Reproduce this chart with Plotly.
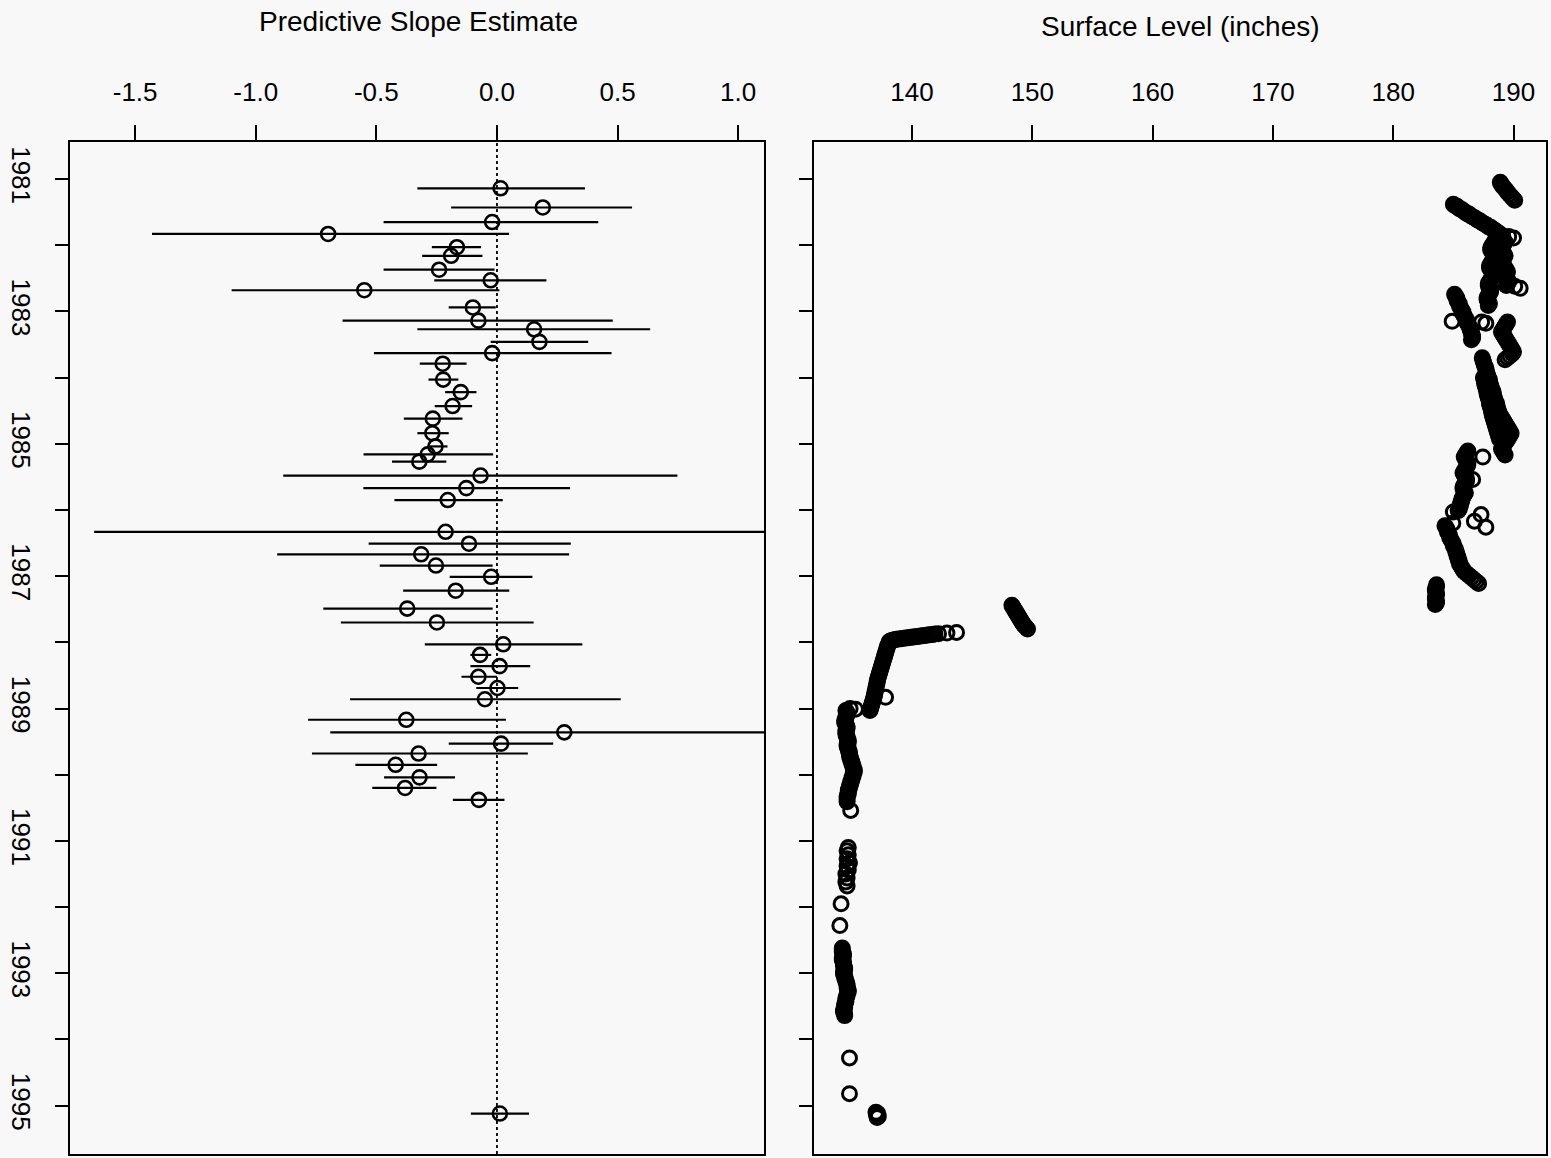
import plotly.graph_objects as go

# ---- Left panel: predictive slope estimates with interval bars ----
slope_year = [1981.14, 1981.43, 1981.65, 1981.83, 1982.03, 1982.16, 1982.37, 1982.53,
              1982.68, 1982.94, 1983.14, 1983.27, 1983.46, 1983.63, 1983.79, 1984.03,
              1984.22, 1984.43, 1984.62, 1984.84, 1985.04, 1985.16, 1985.27, 1985.48,
              1985.67, 1985.85, 1986.33, 1986.51, 1986.67, 1986.84, 1987.01, 1987.22,
              1987.49, 1987.70, 1988.03, 1988.19, 1988.36, 1988.52, 1988.69, 1988.86,
              1989.17, 1989.36, 1989.53, 1989.68, 1989.85, 1990.04, 1990.20, 1990.38,
              1995.12]
slope_est = [0.015, 0.19, -0.02, -0.70, -0.166, -0.19, -0.24, -0.026,
             -0.55, -0.10, -0.077, 0.154, 0.176, -0.02, -0.225, -0.223,
             -0.15, -0.184, -0.266, -0.268, -0.255, -0.287, -0.322, -0.068,
             -0.127, -0.204, -0.213, -0.116, -0.314, -0.253, -0.024, -0.171,
             -0.372, -0.249, 0.026, -0.07, 0.011, -0.077, 0.002, -0.05,
             -0.376, 0.279, 0.017, -0.325, -0.42, -0.321, -0.381, -0.075,
             0.012]
slope_lo = [-0.33, -0.19, -0.47, -1.43, -0.27, -0.31, -0.47, -0.26,
            -1.10, -0.20, -0.64, -0.33, -0.026, -0.51, -0.32, -0.284,
            -0.215, -0.258, -0.386, -0.33, -0.287, -0.553, -0.435, -0.886,
            -0.554, -0.425, -1.67, -0.532, -0.911, -0.486, -0.196, -0.389,
            -0.72, -0.647, -0.299, -0.11, -0.11, -0.147, -0.086, -0.609,
            -0.783, -0.691, -0.20, -0.767, -0.587, -0.468, -0.517, -0.183,
            -0.108]
slope_hi = [0.365, 0.56, 0.42, 0.05, -0.066, -0.06, -0.01, 0.205,
            0.01, -0.005, 0.48, 0.635, 0.378, 0.475, -0.126, -0.16,
            -0.085, -0.103, -0.143, -0.20, -0.205, -0.016, -0.21, 0.748,
            0.303, 0.024, 1.35, 0.306, 0.299, -0.018, 0.147, 0.051,
            -0.018, 0.152, 0.354, -0.024, 0.138, 0.0, 0.088, 0.513,
            0.037, 1.25, 0.233, 0.128, -0.248, -0.174, -0.251, 0.031,
            0.133]

# ---- Right panel: surface level observations, by period ----
years_1981_1983 = [
    # early 1981
    1981.05, 1981.08, 1981.11, 1981.14, 1981.17, 1981.20, 1981.23, 1981.26, 1981.29, 1981.32,
    # spring-summer 1981 rise
    1981.38, 1981.40, 1981.41, 1981.43, 1981.45, 1981.46, 1981.48, 1981.50, 1981.52, 1981.53,
    1981.55, 1981.57, 1981.58, 1981.60, 1981.62, 1981.63, 1981.65, 1981.67, 1981.68, 1981.70,
    1981.72, 1981.73, 1981.75, 1981.77, 1981.78, 1981.80, 1981.82, 1981.84, 1981.86, 1981.87,
    1981.89,
    # 1982, lower readings
    1981.92, 1981.95, 1981.98, 1982.01, 1982.04, 1982.07, 1982.10, 1982.13, 1982.16, 1982.19,
    1982.22, 1982.25, 1982.28, 1982.31, 1982.34, 1982.37, 1982.40, 1982.43, 1982.46, 1982.49,
    1982.52, 1982.55, 1982.58, 1982.61, 1982.64, 1982.67, 1982.70, 1982.73, 1982.76, 1982.79,
    1982.82, 1982.85, 1982.88, 1982.91,
    # 1982, upper readings
    1981.95, 1981.98, 1982.01, 1982.04, 1982.07, 1982.10, 1982.13, 1982.16, 1982.19, 1982.22,
    1982.25, 1982.28, 1982.31, 1982.34, 1982.37, 1982.40, 1982.43, 1982.46, 1982.49, 1982.52,
    1982.55, 1982.58, 1982.61, 1982.62, 1982.65,
    # late 1982 - 1983 drop
    1982.74, 1982.77, 1982.80, 1982.83, 1982.86, 1982.89, 1982.92, 1982.95, 1982.98, 1983.01,
    1983.04, 1983.07, 1983.10, 1983.13, 1983.16, 1983.19, 1983.22, 1983.25, 1983.28, 1983.31,
    1983.34, 1983.37, 1983.40, 1983.43, 1983.15, 1983.16, 1983.18,
    # 1983 high readings
    1983.16, 1983.19, 1983.22, 1983.25, 1983.28, 1983.31, 1983.34, 1983.37, 1983.40, 1983.43,
    1983.46, 1983.49, 1983.52, 1983.55, 1983.58, 1983.61, 1983.64, 1983.67, 1983.70, 1983.73]
level_1981_1983 = [
    188.9, 189.0, 189.1, 189.25, 189.4, 189.5, 189.65, 189.8, 189.95, 190.1,
    185.0, 185.1, 185.3, 185.4, 185.5, 185.7, 185.8, 186.0, 186.1, 186.3,
    186.4, 186.6, 186.7, 186.9, 187.0, 187.2, 187.3, 187.5, 187.6, 187.8,
    187.9, 188.1, 188.2, 188.4, 188.5, 188.6, 188.8, 188.9, 189.1, 189.6,
    190.0,
    188.5, 188.4, 188.3, 188.2, 188.1, 188.1, 188.2, 188.3, 188.4, 188.4,
    188.3, 188.2, 188.1, 188.0, 188.0, 188.1, 188.2, 188.3, 188.3, 188.2,
    188.1, 188.0, 187.9, 187.9, 188.0, 188.1, 188.1, 188.0, 187.9, 187.8,
    187.8, 187.9, 188.0, 187.9,
    189.3, 189.2, 189.1, 189.0, 189.0, 189.1, 189.2, 189.3, 189.2, 189.1,
    189.0, 189.1, 189.2, 189.3, 189.4, 189.5, 189.4, 189.3, 189.4, 189.5,
    189.6, 189.5, 189.4, 190.1, 190.55,
    185.1, 185.2, 185.3, 185.3, 185.4, 185.5, 185.5, 185.6, 185.7, 185.8,
    185.8, 185.9, 186.0, 186.1, 186.1, 186.2, 186.3, 186.4, 186.4, 186.5,
    186.5, 186.6, 186.6, 186.5, 184.9, 187.35, 187.7,
    189.5, 189.4, 189.3, 189.2, 189.1, 189.0, 189.1, 189.2, 189.3, 189.4,
    189.5, 189.6, 189.7, 189.8, 189.9, 190.0, 189.9, 189.7, 189.5, 189.3]

years_1983_1987 = [
    # 1984 steady climb
    1983.70, 1983.73, 1983.76, 1983.79, 1983.82, 1983.85, 1983.88, 1983.91, 1983.94, 1983.97,
    1984.00, 1984.03, 1984.06, 1984.09, 1984.12, 1984.15, 1984.18, 1984.21, 1984.24, 1984.27,
    1984.30, 1984.33, 1984.36, 1984.39, 1984.42, 1984.45, 1984.48, 1984.51, 1984.54, 1984.57,
    1984.60, 1984.63, 1984.66, 1984.69, 1984.72, 1984.75, 1984.78, 1984.81, 1984.84, 1984.87,
    1984.90, 1984.93, 1984.96, 1984.99, 1985.02, 1985.05, 1985.08, 1985.11, 1985.14, 1985.17,
    1985.20,
    # 1984, lower readings
    1984.00, 1984.03, 1984.06, 1984.09, 1984.12, 1984.15, 1984.18, 1984.21, 1984.24, 1984.27,
    1984.30, 1984.33, 1984.36, 1984.39, 1984.42, 1984.45, 1984.48, 1984.51, 1984.54, 1984.57,
    1984.60, 1984.63, 1984.66, 1984.69, 1984.72, 1984.75, 1984.78, 1984.81, 1984.84, 1984.87,
    1984.90, 1984.93,
    # 1985
    1985.11, 1985.14, 1985.17, 1985.20, 1985.23, 1985.26, 1985.29, 1985.32, 1985.35, 1985.38,
    1985.41, 1985.44, 1985.47, 1985.50, 1985.53, 1985.56, 1985.59, 1985.62, 1985.65, 1985.68,
    1985.71, 1985.74, 1985.77, 1985.80, 1985.83, 1985.86, 1985.89, 1985.92, 1985.95, 1985.98,
    1986.01, 1985.54,
    # early 1986 scattered readings
    1986.03, 1986.07, 1986.17, 1986.20, 1986.26,
    # 1986
    1986.24, 1986.27, 1986.30, 1986.33, 1986.36, 1986.39, 1986.42, 1986.45, 1986.48, 1986.51,
    1986.54, 1986.57, 1986.60, 1986.63, 1986.66, 1986.69, 1986.72, 1986.75, 1986.78, 1986.81,
    1986.84, 1986.87, 1986.90, 1986.93, 1986.96, 1986.99, 1987.02, 1987.05, 1987.08, 1987.11,
    # early 1987
    1987.13, 1987.16, 1987.19, 1987.22, 1987.25, 1987.28, 1987.31, 1987.34, 1987.37, 1987.40,
    1987.43]
level_1983_1987 = [
    187.4, 187.45, 187.5, 187.55, 187.6, 187.7, 187.7, 187.75, 187.8, 187.85,
    187.9, 188.0, 188.0, 188.05, 188.1, 188.15, 188.2, 188.3, 188.3, 188.35,
    188.4, 188.45, 188.5, 188.6, 188.6, 188.65, 188.7, 188.75, 188.8, 188.9,
    189.0, 189.1, 189.2, 189.3, 189.4, 189.5, 189.6, 189.7, 189.8, 189.7,
    189.6, 189.5, 189.4, 189.3, 189.2, 189.1, 189.0, 189.1, 189.2, 189.3,
    187.45,
    187.5, 187.55, 187.6, 187.6, 187.65, 187.7, 187.75, 187.8, 187.8, 187.85,
    187.9, 187.95, 188.0, 188.0, 188.05, 188.1, 188.15, 188.2, 188.2, 188.25,
    188.3, 188.35, 188.4, 188.45, 188.5, 188.55, 188.6, 188.65, 188.7, 188.75,
    188.8, 188.85,
    186.2, 186.1, 186.0, 185.9, 186.0, 186.1, 186.2, 186.2, 186.1, 186.0,
    185.9, 185.8, 185.9, 186.0, 186.1, 186.1, 186.0, 185.9, 185.8, 185.8,
    185.9, 186.0, 185.9, 185.8, 185.7, 185.7, 185.6, 185.6, 185.5, 185.5,
    185.4, 186.6,
    185.0, 187.3, 186.75, 184.95, 187.7,
    184.3, 184.4, 184.5, 184.5, 184.6, 184.7, 184.7, 184.8, 184.9, 185.0,
    185.0, 185.1, 185.2, 185.2, 185.3, 185.3, 185.4, 185.4, 185.5, 185.5,
    185.6, 185.7, 185.8, 185.9, 186.1, 186.3, 186.5, 186.7, 186.9, 187.1,
    183.6, 183.6, 183.5, 183.5, 183.6, 183.6, 183.5, 183.5, 183.6, 183.6,
    183.5]

years_1987_1989 = [
    # mid 1987
    1987.44, 1987.47, 1987.50, 1987.53, 1987.56, 1987.59, 1987.62, 1987.65, 1987.68, 1987.71,
    1987.74, 1987.77, 1987.80,
    # late 1987 fall
    1987.85, 1987.86, 1987.87,
    1987.875, 1987.88, 1987.885, 1987.89, 1987.895, 1987.90, 1987.905, 1987.91, 1987.915,
    1987.92, 1987.925, 1987.93, 1987.935, 1987.94, 1987.945, 1987.95, 1987.955, 1987.96,
    1987.97, 1987.975, 1987.98, 1987.99,
    # 1988
    1988.01, 1988.04, 1988.07, 1988.10, 1988.13, 1988.16, 1988.19, 1988.22, 1988.25, 1988.28,
    1988.31, 1988.34, 1988.37, 1988.40, 1988.43, 1988.46, 1988.49, 1988.52, 1988.55, 1988.58,
    1988.61, 1988.64, 1988.67, 1988.70, 1988.73, 1988.76, 1988.79, 1988.82, 1988.85, 1988.88,
    1988.91, 1988.94, 1988.97, 1989.00, 1989.03, 1988.83]
level_1987_1989 = [
    148.3, 148.4, 148.5, 148.6, 148.7, 148.8, 148.9, 149.0, 149.1, 149.2,
    149.3, 149.45, 149.6,
    143.7, 142.9, 142.2,
    141.9, 141.7, 141.5, 141.3, 141.1, 140.9, 140.7, 140.5, 140.3,
    140.1, 139.9, 139.7, 139.5, 139.3, 139.1, 138.9, 138.7, 138.55,
    138.4, 138.3, 138.2, 138.1,
    138.1, 138.0, 137.95, 137.9, 137.85, 137.8, 137.75, 137.7, 137.65, 137.6,
    137.55, 137.5, 137.45, 137.4, 137.35, 137.3, 137.25, 137.2, 137.15, 137.1,
    137.1, 137.05, 137.0, 137.0, 136.95, 136.9, 136.9, 136.85, 136.8, 136.75,
    136.7, 136.65, 136.6, 136.55, 136.5, 137.8]

years_1989_1995 = [
    # 1989 - 1990
    1989.00, 1989.01,
    1989.03, 1989.06, 1989.09, 1989.12, 1989.15, 1989.18, 1989.21, 1989.24, 1989.27, 1989.30,
    1989.33, 1989.36, 1989.39, 1989.42, 1989.45, 1989.48, 1989.51, 1989.54, 1989.57, 1989.60,
    1989.63, 1989.66, 1989.69, 1989.72, 1989.75, 1989.78, 1989.81, 1989.84, 1989.87, 1989.90,
    1989.93, 1989.96, 1989.99, 1990.02, 1990.05, 1990.08, 1990.11, 1990.14, 1990.17, 1990.20,
    1990.23, 1990.26, 1990.29, 1990.32, 1990.35, 1990.38, 1990.41,
    1990.54,
    # 1991
    1991.10, 1991.15, 1991.21, 1991.27, 1991.33, 1991.38, 1991.44, 1991.50, 1991.56, 1991.62,
    1991.68,
    1991.95, 1992.28,
    # 1992 - 1993
    1992.62, 1992.65, 1992.68, 1992.71, 1992.74, 1992.77, 1992.80, 1992.83, 1992.86, 1992.89,
    1992.92, 1992.95, 1992.98, 1993.01, 1993.04, 1993.07, 1993.10, 1993.13, 1993.16, 1993.19,
    1993.22, 1993.25, 1993.28, 1993.31, 1993.34, 1993.37, 1993.40, 1993.43, 1993.46, 1993.49,
    1993.52, 1993.55, 1993.58, 1993.61, 1993.64,
    # 1994 - 1995
    1994.28, 1994.82,
    1995.10, 1995.12, 1995.14, 1995.16, 1995.18]
level_1989_1995 = [
    134.85, 135.3,
    134.5, 134.6, 134.6, 134.5, 134.5, 134.4, 134.4, 134.5, 134.6, 134.6,
    134.5, 134.5, 134.5, 134.6, 134.6, 134.7, 134.7, 134.6, 134.6, 134.7,
    134.7, 134.8, 134.8, 134.8, 134.9, 134.9, 135.0, 135.0, 135.1, 135.1,
    135.2, 135.2, 135.1, 135.1, 135.0, 135.0, 134.9, 134.9, 134.8, 134.8,
    134.7, 134.7, 134.7, 134.6, 134.6, 134.6, 134.6,
    134.9,
    134.7, 134.6, 134.7, 134.6, 134.8, 134.6, 134.7, 134.5, 134.6, 134.5,
    134.6,
    134.1, 134.0,
    134.2, 134.2, 134.2, 134.3, 134.3, 134.2, 134.2, 134.3, 134.3, 134.3,
    134.4, 134.4, 134.3, 134.3, 134.4, 134.4, 134.5, 134.5, 134.6, 134.6,
    134.6, 134.7, 134.7, 134.6, 134.6, 134.5, 134.5, 134.5, 134.4, 134.4,
    134.4, 134.3, 134.3, 134.4, 134.4,
    134.8, 134.8,
    137.0, 137.15, 137.05, 137.2, 137.1]

slope_ticks = [-1.5, -1.0, -0.5, 0.0, 0.5, 1.0]
slope_tick_text = ["-1.5", "-1.0", "-0.5", "0.0", "0.5", "1.0"]
level_ticks = [140, 150, 160, 170, 180, 190]
year_ticks = list(range(1981, 1996))
year_tick_text = [str(y) if y % 2 == 1 else "" for y in year_ticks]

for yrs, lvls in [(years_1981_1983, level_1981_1983), (years_1983_1987, level_1983_1987),
                  (years_1987_1989, level_1987_1989), (years_1989_1995, level_1989_1995)]:
    if len(yrs) != len(lvls):
        raise ValueError(f"length mismatch: {len(yrs)} vs {len(lvls)}")

FONT = "Liberation Sans, Arial, Helvetica, sans-serif"
BG = "#f8f8f8"
W, H = 1551, 1158

level_years = years_1981_1983 + years_1983_1987 + years_1987_1989 + years_1989_1995
level_values = level_1981_1983 + level_1983_1987 + level_1987_1989 + level_1989_1995

fig = go.Figure()

fig.add_trace(go.Scatter(
    x=slope_est, y=slope_year, mode="markers",
    marker=dict(symbol="circle-open", size=14, color="black",
                line=dict(width=2.6, color="black")),
    error_x=dict(type="data", symmetric=False,
                 array=[h - e for h, e in zip(slope_hi, slope_est)],
                 arrayminus=[e - l for l, e in zip(slope_lo, slope_est)],
                 color="black", thickness=2.2, width=0),
    xaxis="x", yaxis="y", showlegend=False, hoverinfo="skip"))

fig.add_trace(go.Scatter(
    x=level_values, y=level_years, mode="markers",
    marker=dict(symbol="circle-open", size=14, color="black",
                line=dict(width=3, color="black")),
    xaxis="x2", yaxis="y2", showlegend=False, hoverinfo="skip"))

x_common = dict(side="top", ticks="outside", ticklen=15, tickwidth=2,
                tickcolor="black", showline=True, linewidth=2.2, linecolor="black",
                mirror=True, showgrid=False, zeroline=False,
                tickfont=dict(family=FONT, size=26, color="black"),
                ticklabelstandoff=13)
y_common = dict(range=[1995.73, 1980.44], tickvals=year_ticks, ticks="outside",
                ticklen=13, tickwidth=2, tickcolor="black", showline=True,
                linewidth=2.2, linecolor="black", mirror=True, showgrid=False,
                zeroline=False, domain=[0.0035, 0.8774])

fig.update_layout(
    width=W, height=H,
    margin=dict(l=0, r=0, t=0, b=0),
    paper_bgcolor=BG, plot_bgcolor=BG,
    xaxis=dict(domain=[70 / W, 764 / W], range=[-1.77, 1.107], anchor="y",
               tickvals=slope_ticks, ticktext=slope_tick_text, **x_common),
    yaxis=dict(anchor="x", ticktext=year_tick_text, tickangle=90,
               tickfont=dict(family=FONT, size=26, color="black"),
               ticklabelstandoff=12, **y_common),
    xaxis2=dict(domain=[814 / W, 1546 / W], range=[131.85, 192.7], anchor="y2",
                tickvals=level_ticks, **x_common),
    yaxis2=dict(anchor="x2", showticklabels=False, **y_common),
    shapes=[dict(type="line", xref="x", yref="y domain", x0=0, x1=0, y0=0, y1=1,
                 line=dict(color="black", width=1.8, dash="dot"))],
    annotations=[
        dict(text="Predictive Slope Estimate", x=418 / W, y=1 - 22 / H,
             xref="paper", yref="paper", xanchor="center", yanchor="middle",
             showarrow=False, font=dict(family=FONT, size=28, color="black")),
        dict(text="Surface Level (inches)", x=1180 / W, y=1 - 27 / H,
             xref="paper", yref="paper", xanchor="center", yanchor="middle",
             showarrow=False, font=dict(family=FONT, size=28, color="black")),
    ],
)

fig.write_html("out.html")
